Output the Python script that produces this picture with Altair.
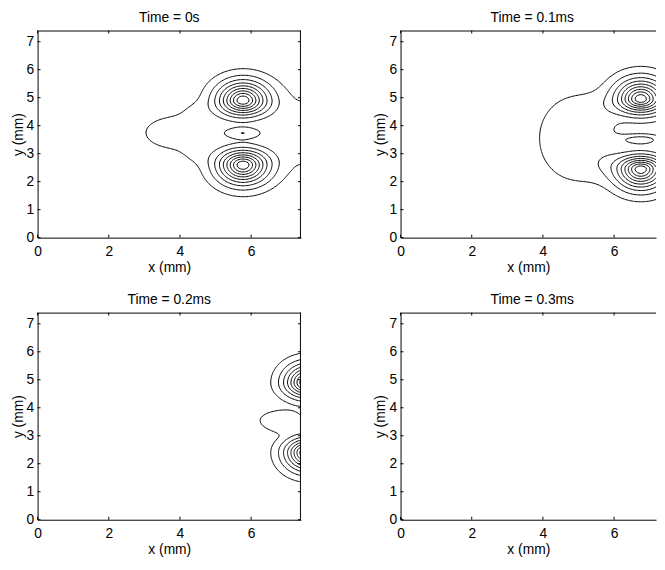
import numpy as np
import pandas as pd
import altair as alt

FONT = "Liberation Sans"
LEVELS = [0.1, 0.2, 0.3, 0.4, 0.5, 0.6, 0.7, 0.8, 0.9]
TITLES = ["Time = 0s", "Time = 0.1ms", "Time = 0.2ms", "Time = 0.3ms"]
X_TICKS = [0, 2, 4, 6]
Y_TICKS = [0, 1, 2, 3, 4, 5, 6, 7]
Y_MAX = 7.4
X_MAX = [7.4, 7.178, 7.4, 7.178]   # right column is cut by the page edge
GRID_STEP = 0.037

# field components per panel:
# centre x, centre y, amplitude, x width, y width above / below centre, exponent
P1_CX = [5.77, 5.77, 5.772, 3.9, 8.2, 4.4, 4.4]
P1_CY = [4.9, 2.6, 3.737, 3.75, 3.75, 4.5, 3.0]
P1_AMP = [1.0, 1.0, 0.200, 0.17, 0.2, 0.045, 0.045]
P1_SX = [0.69, 0.69, 0.61, 1.17, 1.41, 0.4, 0.4]
P1_SYU = [0.66, 0.535, 0.216, 0.755, 1.41, 0.4, 0.4]
P1_SYD = [0.535, 0.66, 0.216, 0.755, 1.41, 0.4, 0.4]
P1_POW = [1.54, 1.54, 2, 2, 2, 2, 2]

P2_CX = [6.75, 6.75, 6.75, 4.9]
P2_CY = [4.95, 2.45, 3.5, 3.55]
P2_AMP = [1.0, 1.0, 0.22, 0.16]
P2_SX = [0.68, 0.68, 0.65, 1.2]
P2_SYU = [0.68, 0.48, 0.2, 1.75]
P2_SYD = [0.5, 0.68, 0.2, 1.75]
P2_POW = [1.54, 1.54, 2, 4]

P3_CX = [7.6, 7.6, 6.8]
P3_CY = [4.9, 2.4, 3.55]
P3_AMP = [1.0, 1.0, 0.13]
P3_SX = [0.61, 0.61, 0.74]
P3_SYU = [0.62, 0.5, 0.42]
P3_SYD = [0.5, 0.62, 0.45]
P3_POW = [1.54, 1.54, 4]

P4_CX = [0.0]
P4_CY = [0.0]
P4_AMP = [0.3]
P4_SX = [0.05]
P4_SYU = [0.05]
P4_SYD = [0.05]
P4_POW = [2]

COMPONENTS = [
    (P1_CX, P1_CY, P1_AMP, P1_SX, P1_SYU, P1_SYD, P1_POW),
    (P2_CX, P2_CY, P2_AMP, P2_SX, P2_SYU, P2_SYD, P2_POW),
    (P3_CX, P3_CY, P3_AMP, P3_SX, P3_SYU, P3_SYD, P3_POW),
    (P4_CX, P4_CY, P4_AMP, P4_SX, P4_SYU, P4_SYD, P4_POW),
]


def field(xg, yg, comps):
    X, Y = np.meshgrid(xg, yg)
    F = np.zeros_like(X)
    for cx, cy, a, sx, syu, syd, p in zip(*comps):
        dy = Y - cy
        sy = np.where(dy > 0, syu, syd)
        r = np.hypot((X - cx) / sx, dy / sy)
        F += a * np.exp(-r ** p)
    return F


def contour_paths(xg, yg, F, lev):
    B = (F > lev).astype(int)
    idx = B[:-1, :-1] + 2 * B[:-1, 1:] + 4 * B[1:, 1:] + 8 * B[1:, :-1]
    cells = np.argwhere((idx > 0) & (idx < 15))
    adj = {}

    def add(e1, e2):
        adj.setdefault(e1, []).append(e2)
        adj.setdefault(e2, []).append(e1)

    for i, j in cells:
        c = idx[i, j]
        bot = ('h', i, j); rig = ('v', i, j + 1); top = ('h', i + 1, j); lef = ('v', i, j)
        if c in (1, 14):
            add(lef, bot)
        elif c in (2, 13):
            add(bot, rig)
        elif c in (3, 12):
            add(lef, rig)
        elif c in (4, 11):
            add(rig, top)
        elif c in (6, 9):
            add(bot, top)
        elif c in (7, 8):
            add(lef, top)
        else:
            centre = F[i:i + 2, j:j + 2].mean()
            if c == 5:
                if centre > lev:
                    add(bot, rig); add(lef, top)
                else:
                    add(lef, bot); add(rig, top)
            else:
                if centre > lev:
                    add(lef, bot); add(rig, top)
                else:
                    add(bot, rig); add(lef, top)

    def pt(e):
        kind, i, j = e
        if kind == 'h':
            f0, f1 = F[i, j], F[i, j + 1]
            t = (lev - f0) / (f1 - f0)
            return xg[j] + t * (xg[j + 1] - xg[j]), yg[i]
        f0, f1 = F[i, j], F[i + 1, j]
        t = (lev - f0) / (f1 - f0)
        return xg[j], yg[i] + t * (yg[i + 1] - yg[i])

    def walk(start):
        path = [start]
        cur = start
        while adj.get(cur):
            nxt = adj[cur].pop()
            adj[nxt].remove(cur)
            path.append(nxt)
            cur = nxt
            if cur == start:
                break
        return path

    paths = []
    for e in list(adj.keys()):
        if len(adj[e]) == 1:
            paths.append(walk(e))
    for e in list(adj.keys()):
        if len(adj[e]) > 0:
            paths.append(walk(e))
    return [[pt(e) for e in p] for p in paths]


def axis_x():
    return alt.Axis(values=X_TICKS, title="x (mm)", ticks=False, tickSize=0, grid=False,
                    domain=True, domainColor="black", domainWidth=1, labelFlush=False,
                    labelPadding=7, titlePadding=2, labelFont=FONT, titleFont=FONT,
                    labelFontSize=14, titleFontSize=14, titleFontWeight="normal",
                    labelColor="black", titleColor="black")


def axis_y():
    return alt.Axis(values=Y_TICKS, title="y (mm)", ticks=False, tickSize=0, grid=False,
                    domain=True, domainColor="black", domainWidth=1, labelFlush=False,
                    labelPadding=4, titlePadding=1, labelFont=FONT, titleFont=FONT,
                    labelFontSize=14, titleFontSize=14, titleFontWeight="normal",
                    labelColor="black", titleColor="black")


def panel(i):
    left = (i % 2 == 0)
    W = 267 if left else 259
    H = 210
    xmax = X_MAX[i]
    xg = np.round(np.arange(0, xmax + 1e-9, GRID_STEP), 6)
    yg = np.round(np.arange(0, Y_MAX + 1e-9, GRID_STEP), 6)
    F = field(xg, yg, COMPONENTS[i])
    rows = []
    pid = 0
    for lev in LEVELS:
        for path in contour_paths(xg, yg, F, lev):
            for k, (x, y) in enumerate(path):
                rows.append((pid, k, round(float(x), 4), round(float(y), 4)))
            pid += 1
    df = pd.DataFrame(rows, columns=["pid", "k", "x", "y"])
    xs = alt.Scale(domain=[0, xmax], nice=False, zero=False)
    ys = alt.Scale(domain=[0, Y_MAX], nice=False, zero=False)

    lines = alt.Chart(df).mark_line(color="black", strokeWidth=1, clip=True).encode(
        x=alt.X("x:Q", scale=xs, axis=axis_x()),
        y=alt.Y("y:Q", scale=ys, axis=axis_y()),
        detail="pid:N",
        order=alt.Order("k:Q"),
    )
    xt = pd.DataFrame({"x": X_TICKS})
    yt = pd.DataFrame({"y": Y_TICKS})
    one = pd.DataFrame({"z": [0]})
    rule = dict(color="black", strokeWidth=1)
    layers = [
        lines,
        alt.Chart(xt).mark_rule(**rule).encode(
            x=alt.X("x:Q", scale=xs, axis=axis_x()), y=alt.value(H), y2=alt.value(H - 3)),
        alt.Chart(xt).mark_rule(**rule).encode(
            x=alt.X("x:Q", scale=xs, axis=axis_x()), y=alt.value(0), y2=alt.value(3)),
        alt.Chart(yt).mark_rule(**rule).encode(
            y=alt.Y("y:Q", scale=ys, axis=axis_y()), x=alt.value(0), x2=alt.value(3)),
        alt.Chart(one).mark_rule(**rule).encode(
            x=alt.value(0), x2=alt.value(W), y=alt.value(0.5)),
    ]
    if left:
        layers += [
            alt.Chart(yt).mark_rule(**rule).encode(
                y=alt.Y("y:Q", scale=ys, axis=axis_y()), x=alt.value(W), x2=alt.value(W - 3)),
            alt.Chart(one).mark_rule(**rule).encode(
                x=alt.value(W - 0.5), y=alt.value(0), y2=alt.value(H)),
        ]
    return alt.layer(*layers).properties(
        width=W, height=H,
        title=alt.TitleParams(TITLES[i], font=FONT, fontSize=14, fontWeight="normal",
                              color="black", offset=-6, baseline="alphabetic",
                              anchor="middle", frame="group", dx=0 if left else 4),
    )


row1 = alt.hconcat(panel(0), panel(1), spacing=73)
row2 = alt.hconcat(panel(2), panel(3), spacing=73)
chart = alt.vconcat(row1, row2, spacing=19).properties(
    padding={"left": 3, "top": -1, "right": 0, "bottom": 0}
).configure_view(stroke=None)

chart.save("out.html", embed_options={"renderer": "svg", "actions": False})
